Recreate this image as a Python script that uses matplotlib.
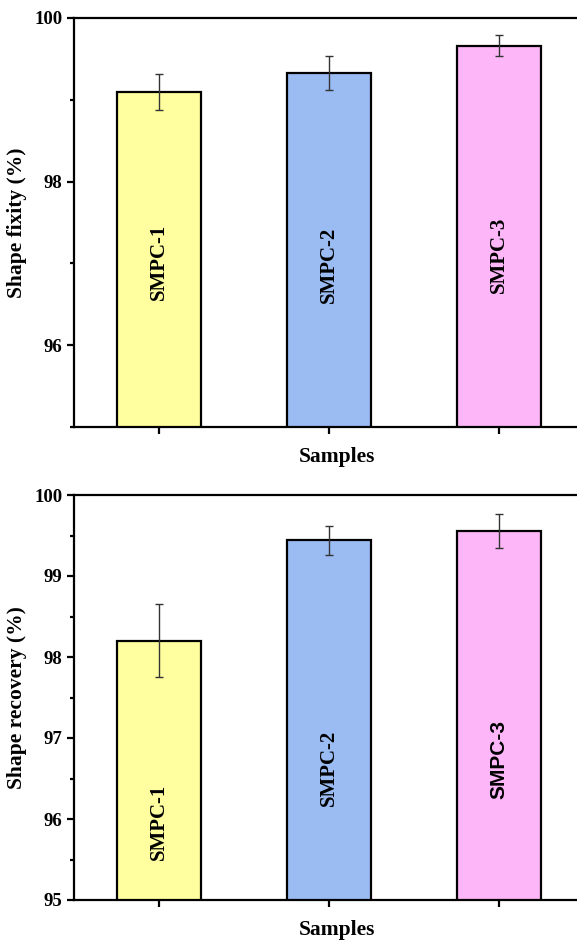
import matplotlib
matplotlib.use('Agg')
import matplotlib.pyplot as plt
from matplotlib.ticker import MultipleLocator

samples = ['SMPC-1', 'SMPC-2', 'SMPC-3']
colors = ['#FFFFA0', '#9BBBF3', '#FDB7F8']

fixity = [99.10, 99.33, 99.66]
fixity_err = [0.22, 0.21, 0.13]

recovery = [98.20, 99.44, 99.55]
recovery_err = [0.45, 0.18, 0.21]

# where the text sits inside each bar (data units)
fixity_text_y = [97.02, 96.98, 97.10]
recovery_text_y = [95.96, 96.63, 96.74]
recovery_text_font = ['Liberation Serif', 'Liberation Serif', 'Liberation Sans']

plt.rcParams['font.family'] = 'Liberation Serif'
plt.rcParams['font.weight'] = 'bold'

fig = plt.figure(figsize=(5.77, 9.4), dpi=100)
W, H = 577, 940


def make_axes(top, bottom):
    return fig.add_axes([74 / W, (H - bottom) / H, (601 - 74) / W, (bottom - top) / H])


ax1 = make_axes(18, 427)
ax2 = make_axes(495, 900)

x = list(range(len(samples)))


def draw(ax, vals, errs, ylabel, text_y, text_fonts, major, minor):
    ax.bar(x, vals, width=0.49, color=colors, edgecolor='black', linewidth=1.6, zorder=2)
    ax.errorbar(x, vals, yerr=errs, fmt='none', ecolor='#333333', elinewidth=1,
                capsize=3, capthick=1, zorder=3)
    for i, s in enumerate(samples):
        ax.text(x[i], text_y[i], s, rotation=90, ha='center', va='center',
                fontsize=15, fontweight='bold', family=text_fonts[i])
    ax.set_xlim(-0.5, 2.6)
    ax.set_ylim(95, 100)
    ax.yaxis.set_major_locator(MultipleLocator(major))
    ax.yaxis.set_minor_locator(MultipleLocator(minor))
    ax.set_xticks(x)
    ax.set_xticklabels([])
    ax.set_xlabel('Samples', fontsize=15.5, fontweight='bold', labelpad=6)
    ax.set_ylabel(ylabel, fontsize=15.5, fontweight='bold', labelpad=5)
    for sp in ax.spines.values():
        sp.set_linewidth(1.6)
    ax.spines['right'].set_visible(False)
    ax.tick_params(axis='both', which='major', direction='out', length=5, width=1.6,
                   labelsize=13.5)
    ax.tick_params(axis='y', which='minor', direction='out', length=3, width=1.6)
    ax.tick_params(axis='x', which='major', length=5)
    for lab in ax.get_yticklabels():
        lab.set_fontweight('bold')


draw(ax1, fixity, fixity_err, 'Shape fixity (%)', fixity_text_y,
     ['Liberation Serif'] * 3, 2, 1)
draw(ax2, recovery, recovery_err, 'Shape recovery (%)', recovery_text_y,
     recovery_text_font, 1, 0.5)

fig.savefig('out.png', dpi=100)
